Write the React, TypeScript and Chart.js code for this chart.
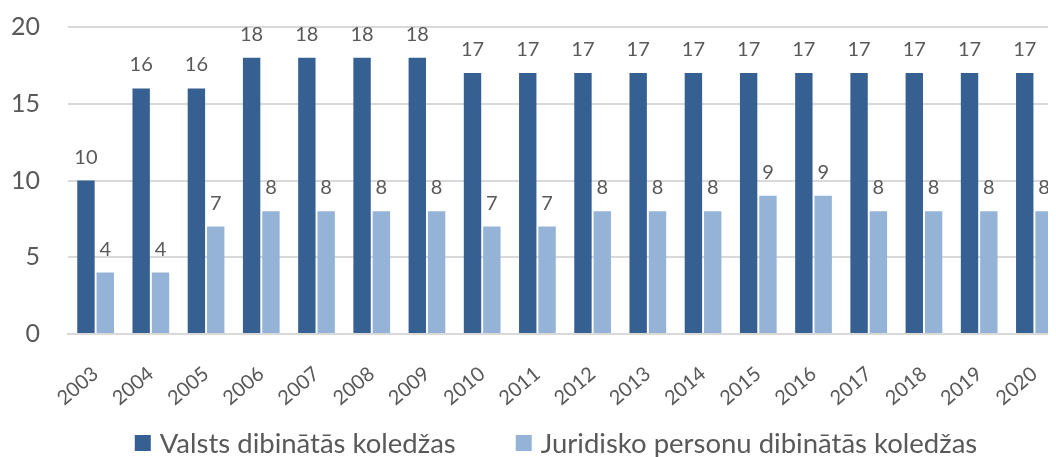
import React, { useEffect, useRef } from "react";
import { Chart, registerables } from "chart.js";

Chart.register(...registerables);

const years = ["2003","2004","2005","2006","2007","2008","2009","2010","2011","2012","2013","2014","2015","2016","2017","2018","2019","2020"];
const stateColleges = [10,16,16,18,18,18,18,17,17,17,17,17,17,17,17,17,17,17];
const legalColleges = [4,4,7,8,8,8,8,7,7,8,8,8,9,9,8,8,8,8];
const seriesNames = ["Valsts dibinātās koledžas", "Juridisko personu dibinātās koledžas"];
const seriesColors = ["#366092", "#95B3D7"];
const yTicks = [0, 5, 10, 15, 20];

const FONT = "Lato";
const TEXT = "#595959";

const valueLabels = {
  id: "valueLabels",
  afterDatasetsDraw(chart: any) {
    const ctx = chart.ctx;
    ctx.save();
    ctx.font = `20px ${FONT}`;
    ctx.fillStyle = TEXT;
    ctx.textAlign = "center";
    ctx.textBaseline = "alphabetic";
    chart.data.datasets.forEach((ds: any, i: number) => {
      const meta = chart.getDatasetMeta(i);
      meta.data.forEach((bar: any, j: number) => {
        ctx.fillText(String(ds.data[j]), bar.x, bar.y - 17);
      });
    });
    ctx.restore();
  },
};

const bottomLegend = {
  id: "bottomLegend",
  afterDraw(chart: any) {
    const ctx = chart.ctx;
    ctx.save();
    ctx.font = `27.5px ${FONT}`;
    ctx.textBaseline = "middle";
    ctx.textAlign = "left";
    const box = 16;
    const gapBoxText = 9;
    const gapItems = 60;
    const widths = chart.data.datasets.map((ds: any) => ctx.measureText(ds.label).width);
    const total = widths.reduce((a: number, w: number) => a + box + gapBoxText + w, 0) + gapItems * (widths.length - 1);
    const center = 556;
    let x = center - total / 2;
    const yc = 443;
    chart.data.datasets.forEach((ds: any, i: number) => {
      ctx.fillStyle = ds.backgroundColor;
      ctx.fillRect(x, yc - box / 2, box, box);
      ctx.fillStyle = TEXT;
      ctx.fillText(ds.label, x + box + gapBoxText, yc + 1);
      x += box + gapBoxText + widths[i] + gapItems;
    });
    ctx.restore();
  },
};

export default function App() {
  const ref = useRef<HTMLCanvasElement>(null);
  useEffect(() => {
    const chart = new Chart(ref.current!, {
      type: "bar",
      data: {
        labels: years,
        datasets: [
          { label: seriesNames[0], data: stateColleges, backgroundColor: seriesColors[0], categoryPercentage: 0.7, barPercentage: 0.9 },
          { label: seriesNames[1], data: legalColleges, backgroundColor: seriesColors[1], categoryPercentage: 0.7, barPercentage: 0.9 },
        ],
      },
      options: {
        animation: false,
        responsive: false,
        maintainAspectRatio: false,
        layout: { padding: { top: 27, right: 6, left: 0, bottom: 43 } },
        plugins: {
          tooltip: { enabled: false },
          legend: { display: false },
        },
        scales: {
          x: {
            grid: { display: false },
            border: { display: true, color: "#d9d9d9", width: 2 },
            ticks: {
              color: TEXT,
              font: { family: FONT, size: 20 },
              minRotation: 40,
              maxRotation: 40,
              padding: 20,
            },
            afterFit(scale: any) { scale.height = 80; },
          },
          y: {
            min: 0,
            max: 20,
            afterBuildTicks(scale: any) { scale.ticks = yTicks.map((v) => ({ value: v })); },
            grid: { color: "#d9d9d9", lineWidth: 2, drawTicks: false },
            border: { display: false },
            ticks: {
              color: TEXT,
              font: { family: FONT, size: 25 },
              padding: 28,
            },
            afterFit(scale: any) {
              scale.width = 68;
              scale.paddingTop = 15;
              scale.paddingBottom = 15;
            },
          },
        },
      },
      plugins: [valueLabels, bottomLegend],
    });
    return () => chart.destroy();
  }, []);
  return (
    <div style={{ marginLeft: -8, marginTop: -8, width: 1070, height: 457 }}>
      <canvas ref={ref} width={1070} height={457} style={{ display: "block" }} />
    </div>
  );
}
